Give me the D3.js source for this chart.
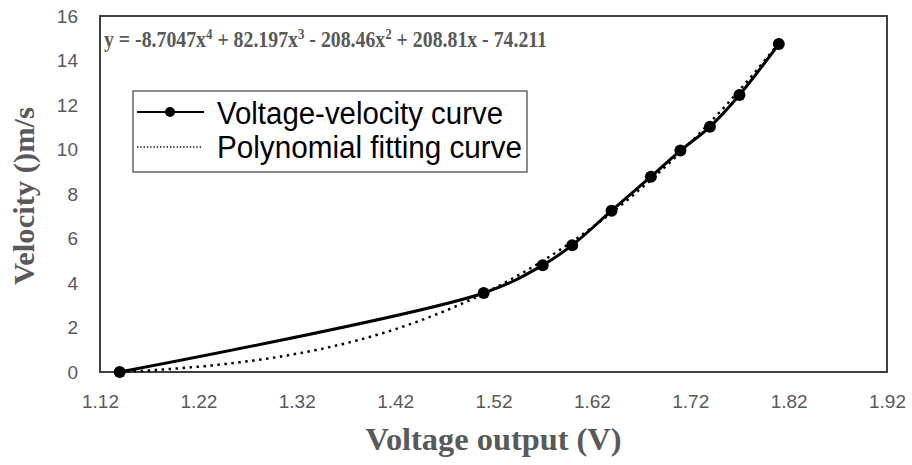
<!DOCTYPE html>
<html>
<head>
<meta charset="utf-8">
<script src="https://cdn.jsdelivr.net/npm/d3@7"></script>
<style>
  body { margin: 0; background: #fff; }
</style>
</head>
<body>
<svg id="chart" width="912" height="465"></svg>
<script>
// measured points of the voltage-velocity curve
const voltage = [1.14, 1.51, 1.57, 1.60, 1.64, 1.68, 1.71, 1.74, 1.77, 1.81];
const velocity = [0, 3.55, 4.8, 5.7, 7.25, 8.78, 9.95, 11.02, 12.45, 14.74];

// trendline coefficients, highest power first (x^4 .. x^0)
const polyCoef = [-8.7047, 82.197, -208.46, 208.81, -74.211];

const xTicks = [1.12, 1.22, 1.32, 1.42, 1.52, 1.62, 1.72, 1.82, 1.92];
const yTicks = [0, 2, 4, 6, 8, 10, 12, 14, 16];

const legendLabels = ["Voltage-velocity curve", "Polynomial fitting curve"];

const svg = d3.select("#chart");
const width = +svg.attr("width");
const height = +svg.attr("height");
const margin = { top: 16, right: 25, bottom: 93, left: 100 };
const plotW = width - margin.left - margin.right;
const plotH = height - margin.top - margin.bottom;
const grey = "#595959";

const x = d3.scaleLinear().domain([1.12, 1.92]).range([0, plotW]);
const y = d3.scaleLinear().domain([0, 16]).range([plotH, 0]);

const g = svg.append("g")
  .attr("transform", `translate(${margin.left},${margin.top})`);

// ------- axes ------
const xAxis = g.append("g")
  .attr("transform", `translate(0,${plotH})`)
  .call(d3.axisBottom(x).tickValues(xTicks).tickSize(0).tickPadding(23).tickFormat(d3.format(".2f")));
const yAxis = g.append("g")
  .call(d3.axisLeft(y).tickValues(yTicks).tickSize(0).tickPadding(22).tickFormat(d3.format("d")));

[xAxis, yAxis].forEach(ax => {
  ax.select(".domain").remove();
  ax.selectAll("text")
    .attr("fill", grey)
    .attr("font-family", "Liberation Sans, Arial, sans-serif")
    .attr("font-size", "19px");
});

// plot frame
g.append("rect")
  .attr("x", 0).attr("y", 0)
  .attr("width", plotW).attr("height", plotH)
  .attr("fill", "none")
  .attr("stroke", "#404040")
  .attr("stroke-width", 2);

// axis titles
svg.append("text")
  .attr("x", margin.left + plotW / 2)
  .attr("y", 450)
  .attr("text-anchor", "middle")
  .attr("font-family", "Liberation Serif, Times New Roman, serif")
  .attr("font-weight", "bold")
  .attr("font-size", "31px")
  .attr("fill", grey)
  .attr("textLength", 256)
  .attr("lengthAdjust", "spacingAndGlyphs")
  .text("Voltage output (V)");

svg.append("text")
  .attr("transform", "translate(34,196) rotate(-90)")
  .attr("text-anchor", "middle")
  .attr("font-family", "Liberation Serif, Times New Roman, serif")
  .attr("font-weight", "bold")
  .attr("font-size", "30px")
  .attr("fill", grey)
  .attr("textLength", 178)
  .attr("lengthAdjust", "spacingAndGlyphs")
  .text("Velocity ()m/s");

// ------- trendline ------
const poly = v => polyCoef.reduce((acc, c) => acc * v + c, 0);
const fitPts = d3.range(voltage[0], voltage[voltage.length - 1] + 0.0005, 0.002).map(v => [v, poly(v)]);

g.append("path")
  .datum(fitPts)
  .attr("fill", "none")
  .attr("stroke", "#000")
  .attr("stroke-width", 2.5)
  .attr("stroke-dasharray", "2.5,4.5")
  .attr("d", d3.line().x(d => x(d[0])).y(d => y(d[1])));

// ------- data curve ------
const pts = voltage.map((v, i) => [v, velocity[i]]);
g.append("path")
  .datum(pts)
  .attr("fill", "none")
  .attr("stroke", "#000")
  .attr("stroke-width", 3)
  .attr("d", d3.line().curve(d3.curveCatmullRom.alpha(0.5)).x(d => x(d[0])).y(d => y(d[1])));

g.selectAll("circle.pt")
  .data(pts)
  .enter()
  .append("circle")
  .attr("class", "pt")
  .attr("cx", d => x(d[0]))
  .attr("cy", d => y(d[1]))
  .attr("r", 6)
  .attr("fill", "#000");

// equation label, superscripts raised then lowered back on the next piece
const eq = svg.append("text")
  .attr("x", 104)
  .attr("y", 47)
  .attr("font-family", "Liberation Serif, Times New Roman, serif")
  .attr("font-weight", "bold")
  .attr("font-size", "23px")
  .attr("fill", grey)
  .attr("textLength", 443)
  .attr("lengthAdjust", "spacingAndGlyphs");
const eqParts = [
  ["y = -8.7047x", 0], ["4", 1], [" + 82.197x", 0], ["3", 1],
  [" - 208.46x", 0], ["2", 1], [" + 208.81x - 74.211", 0]
];
let raised = false;
eqParts.forEach(([t, sup]) => {
  let dy = 0;
  if (sup && !raised) { dy = -8; raised = true; }
  else if (!sup && raised) { dy = 8; raised = false; }
  eq.append("tspan")
    .attr("font-size", sup ? "15px" : "23px")
    .attr("dy", dy)
    .text(t);
});

// ------- legend ------
const legend = svg.append("g");
legend.append("rect")
  .attr("x", 133).attr("y", 91)
  .attr("width", 394).attr("height", 81)
  .attr("fill", "#fff")
  .attr("stroke", "#404040")
  .attr("stroke-width", 1.2);

legend.append("line")
  .attr("x1", 137).attr("x2", 204).attr("y1", 112).attr("y2", 112)
  .attr("stroke", "#000").attr("stroke-width", 2);
legend.append("circle")
  .attr("cx", 170).attr("cy", 112).attr("r", 5).attr("fill", "#000");
legend.append("line")
  .attr("x1", 137).attr("x2", 202).attr("y1", 147).attr("y2", 147)
  .attr("stroke", "#000").attr("stroke-width", 1.3)
  .attr("stroke-dasharray", "1.3,2");

legend.selectAll("text.lbl")
  .data(legendLabels)
  .enter()
  .append("text")
  .attr("class", "lbl")
  .attr("x", 217)
  .attr("y", (d, i) => 124 + i * 34)
  .attr("font-family", "Liberation Sans, Arial, sans-serif")
  .attr("font-size", "31px")
  .attr("fill", "#000")
  .attr("textLength", (d, i) => i === 0 ? 286 : 305)
  .attr("lengthAdjust", "spacingAndGlyphs")
  .text(d => d);
</script>
</body>
</html>
